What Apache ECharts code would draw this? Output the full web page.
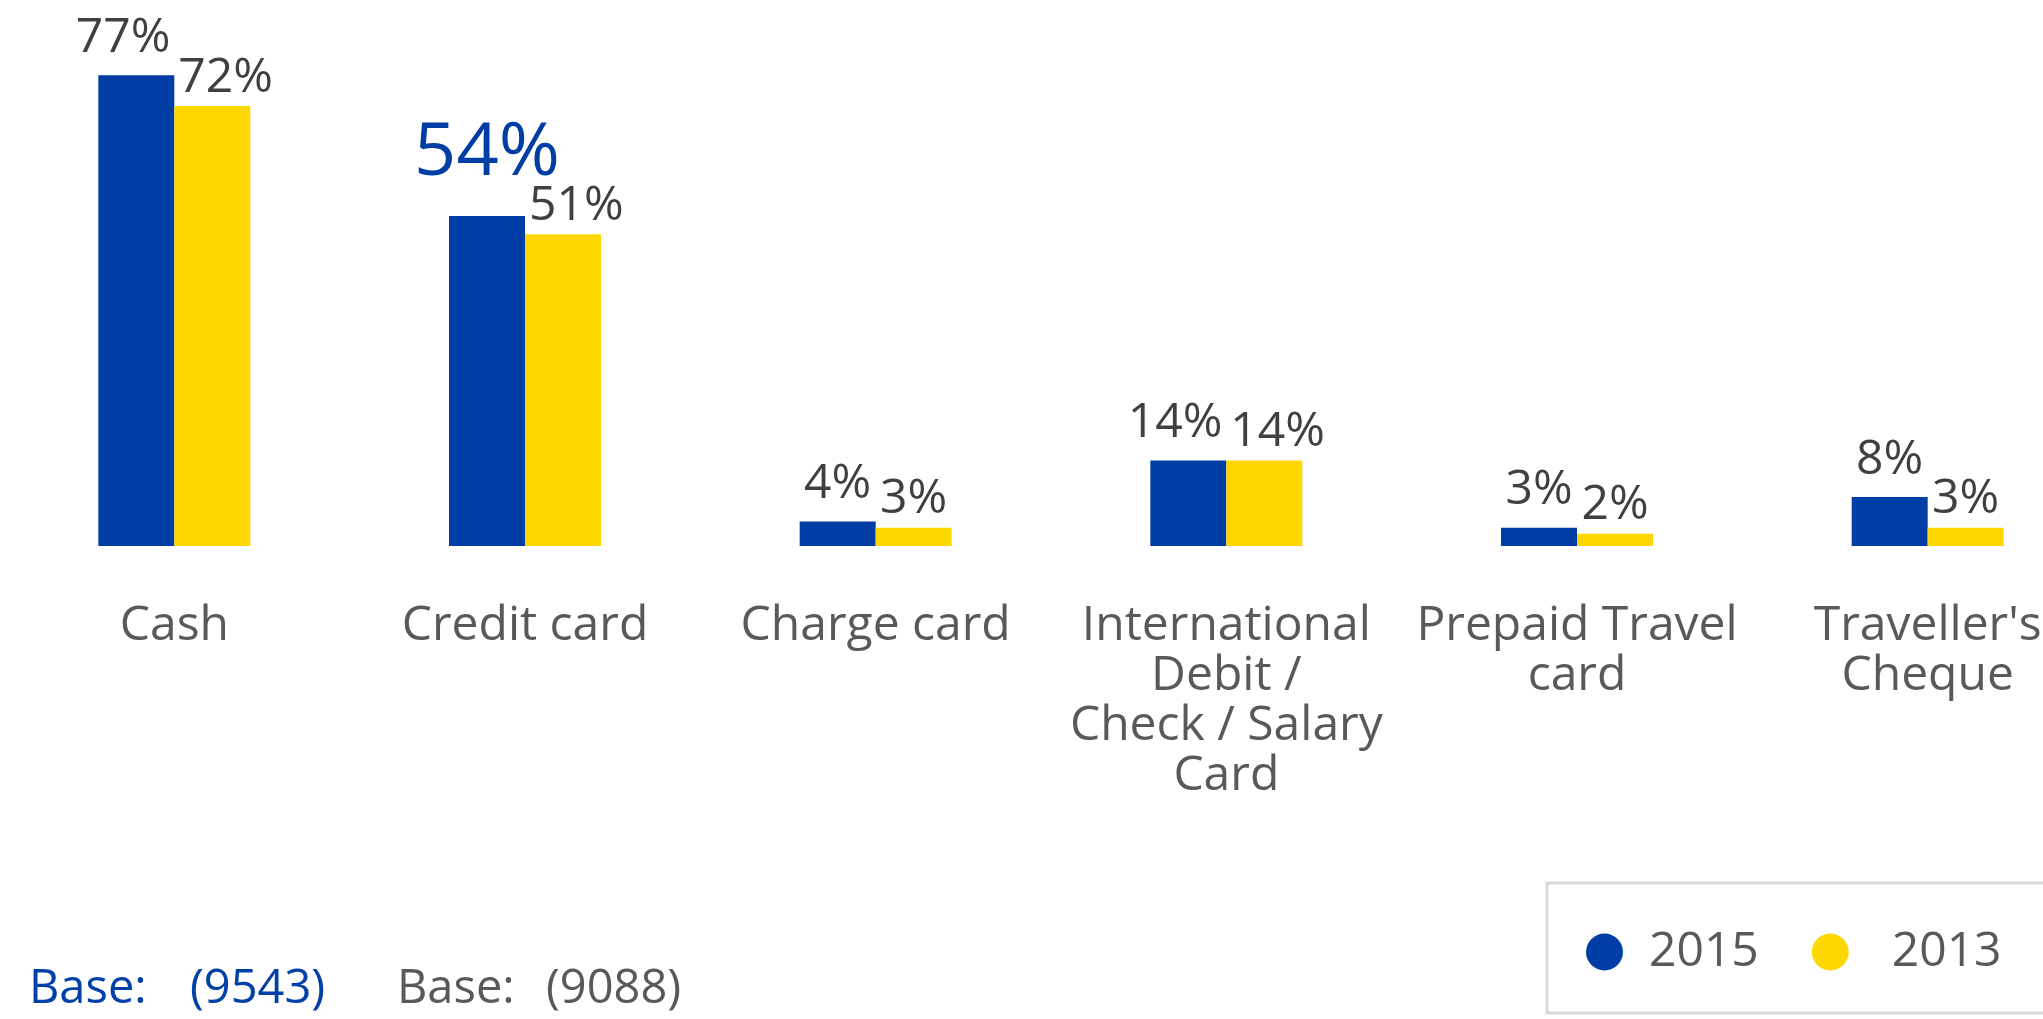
<!DOCTYPE html>
<html>
<head>
<meta charset="utf-8">
<script src="https://cdn.jsdelivr.net/npm/echarts@6/dist/echarts.min.js"></script>
<style>
  html, body { margin: 0; padding: 0; background: #ffffff; }
  #chart { width: 2043px; height: 1019px; }
</style>
</head>
<body>
<div id="chart"></div>
<script>
// Payment methods used abroad, share of respondents
const categories = [
  'Cash',
  'Credit card',
  'Charge card',
  'International\nDebit /\nCheck / Salary\nCard',
  'Prepaid Travel\ncard',
  "Traveller's\nCheque"
];
const seriesNames = ['2015', '2013'];
const values2015 = [77, 54, 4, 14, 3, 8];
const values2013 = [72, 51, 3, 14, 2, 3];
const baseCounts = [9543, 9088];
const highlightIndex = 1; // emphasised 2015 value

const BLUE = '#003DA5';
const YELLOW = '#FFD700';
const FONT = '"Open Sans", "Noto Sans", sans-serif';

const chart = echarts.init(document.getElementById('chart'));

const valueLabel = (distance) => ({
  show: true,
  position: 'top',
  distance: distance,
  color: '#404040',
  fontFamily: FONT,
  fontSize: 48
});

chart.setOption({
  backgroundColor: '#ffffff',
  animation: false,
  textStyle: { fontFamily: FONT },
  // plot area runs past the right edge so the last column is cut off
  grid: {
    left: -1,
    top: 57,
    width: 2104,
    height: 489,
    containLabel: false,
    outerBoundsMode: 'none'
  },
  xAxis: {
    type: 'category',
    data: categories,
    axisLine: { show: false },
    axisTick: { show: false },
    axisLabel: {
      interval: 0,
      margin: 55,
      fontSize: 48,
      lineHeight: 50,
      color: '#595959',
      fontFamily: FONT,
      hideOverlap: false
    }
  },
  yAxis: { type: 'value', min: 0, max: 80, show: false, splitLine: { show: false } },
  legend: {
    data: seriesNames,
    left: 1586,
    top: 928,
    orient: 'horizontal',
    icon: 'circle',
    itemWidth: 37,
    itemHeight: 37,
    itemGap: 53,
    padding: 0,
    formatter: function (name) {
      return name === seriesNames[1] ? '{wide|' + name + '}' : '{near|' + name + '}';
    },
    textStyle: {
      fontSize: 48,
      lineHeight: 48,
      color: '#595959',
      fontFamily: FONT,
      rich: {
        near: { fontSize: 48, color: '#595959', fontFamily: FONT, padding: [0, 0, 0, 21] },
        wide: { fontSize: 48, color: '#595959', fontFamily: FONT, padding: [0, 0, 0, 38] }
      }
    }
  },
  labelLayout: function (p) {
    if (p.seriesIndex === 0 && p.dataIndex === highlightIndex) return {};
    const over = (p.labelRect.width - p.rect.width) / 2;
    if (over <= 0) return {};
    return { dx: p.seriesIndex === 0 ? -over - 4 : over + 4 };
  },
  series: [
    {
      name: seriesNames[0],
      type: 'bar',
      data: values2015,
      barWidth: 76,
      barGap: '0%',
      itemStyle: { color: BLUE },
      label: Object.assign(valueLabel(13), {
        formatter: function (p) {
          return p.dataIndex === highlightIndex ? '{big|' + p.value + '%}' : p.value + '%';
        },
        rich: {
          big: { fontSize: 74, color: BLUE, fontFamily: FONT, padding: [0, 0, 12, 0] }
        }
      })
    },
    {
      name: seriesNames[1],
      type: 'bar',
      data: values2013,
      barWidth: 76,
      barGap: '0%',
      itemStyle: { color: YELLOW },
      label: Object.assign(valueLabel(4), {
        formatter: function (p) { return p.value + '%'; }
      })
    }
  ],
  graphic: [
    // legend frame, open past the right edge
    {
      type: 'rect',
      shape: { x: 1547, y: 883, width: 540, height: 130 },
      style: { fill: 'none', stroke: '#d9d9d9', lineWidth: 3 },
      silent: true
    },
    { type: 'text', left: 29, top: 966, style: { text: 'Base:', fill: '#0040A8', font: '47px ' + FONT } },
    { type: 'text', left: 190, top: 966, style: { text: '(' + baseCounts[0] + ')', fill: '#0040A8', font: '47px ' + FONT } },
    { type: 'text', left: 397, top: 966, style: { text: 'Base:', fill: '#595959', font: '47px ' + FONT } },
    { type: 'text', left: 546, top: 966, style: { text: '(' + baseCounts[1] + ')', fill: '#595959', font: '47px ' + FONT } }
  ]
});
</script>
</body>
</html>
